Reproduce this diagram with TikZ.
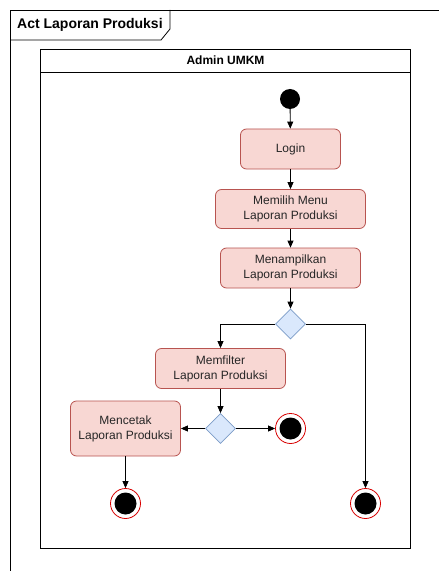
\documentclass[tikz,border=0pt]{standalone}
\usepackage{fontspec}
\setmainfont{Liberation Sans}
\usetikzlibrary{shapes.geometric,arrows.meta}
\definecolor{actfill}{HTML}{F8D7D3}
\definecolor{actdraw}{HTML}{B85450}
\definecolor{decfill}{HTML}{DAE8FC}
\definecolor{decdraw}{HTML}{7C9CC8}
\definecolor{finred}{HTML}{D80000}
\definecolor{txt}{HTML}{262626}
\tikzset{
  actbox/.style={draw=actdraw, fill=actfill, rounded corners=6bp, align=center,
    text=txt, font=\fontsize{12bp}{15bp}\selectfont, inner sep=0pt, line width=0.8bp},
  decbox/.style={draw=decdraw, fill=decfill, diamond, minimum width=30bp, minimum height=30bp,
    inner sep=0pt, line width=0.8bp},
  startnode/.style={circle, fill=black, minimum size=20bp, inner sep=0pt},
  finnode/.style={circle, draw=finred, fill=white, minimum size=30bp, inner sep=0pt, line width=0.8bp,
    path picture={\fill[black] (path picture bounding box.center) circle (11bp);}},
  flow/.style={-{Triangle[length=7bp,width=6bp]}, line width=0.8bp, black},
}
\begin{document}
\begin{tikzpicture}[x=1bp,y=-1bp]
\useasboundingbox (0,0) rectangle (439,571);
\fill[white] (0,0) rectangle (439,571);
% outer frame
\draw[line width=0.8bp] (439.5,10) -- (10,10) -- (10,571.5);
\draw[line width=0.8bp] (10,40) -- (161,40) -- (170,29) -- (170,10);
\node[anchor=west, font=\bfseries\fontsize{14bp}{16bp}\selectfont, text=black, inner sep=0pt] (title) at (17,25) {Act Laporan Produksi};
% swimlane
\draw[line width=0.8bp] (40.5,49) rectangle (410.5,548);
\draw[line width=0.8bp] (40.5,72) -- (410.5,72);
\node[font=\bfseries\fontsize{12bp}{14bp}\selectfont, text=black, inner sep=0pt] (lane) at (225.5,60.5) {Admin UMKM};
% nodes
\node[startnode] (start) at (290,99) {};
\node[actbox, minimum width=100bp, minimum height=40bp] (login) at (290.5,149) {Login};
\node[actbox, minimum width=150bp, minimum height=39bp] (menu) at (290.5,209) {Memilih Menu\\Laporan Produksi};
\node[actbox, minimum width=140bp, minimum height=40bp] (tampil) at (290.5,268) {Menampilkan\\Laporan Produksi};
\node[decbox] (d1) at (290.5,324) {};
\node[actbox, minimum width=130bp, minimum height=40bp] (filter) at (220.5,368.5) {Memfilter\\Laporan Produksi};
\node[decbox] (d2) at (220.5,428.5) {};
\node[actbox, minimum width=110bp, minimum height=55bp] (cetak) at (125.5,428.5) {Mencetak\\Laporan Produksi};
\node[finnode] (f1) at (290.5,428.5) {};
\node[finnode] (f2) at (125.5,503.5) {};
\node[finnode] (f3) at (365.5,503.5) {};
% connectors
\draw[flow] (start) -- (login);
\draw[flow] (login) -- (menu);
\draw[flow] (menu) -- (tampil);
\draw[flow] (tampil) -- (d1);
\draw[flow] (d1.west) -| (filter.north);
\draw[flow] (d1.east) -| (f3.north);
\draw[flow] (filter) -- (d2);
\draw[flow] (d2.west) -- (cetak.east);
\draw[flow] (d2.east) -- (f1.west);
\draw[flow] (cetak) -- (f2);
\end{tikzpicture}
\end{document}
